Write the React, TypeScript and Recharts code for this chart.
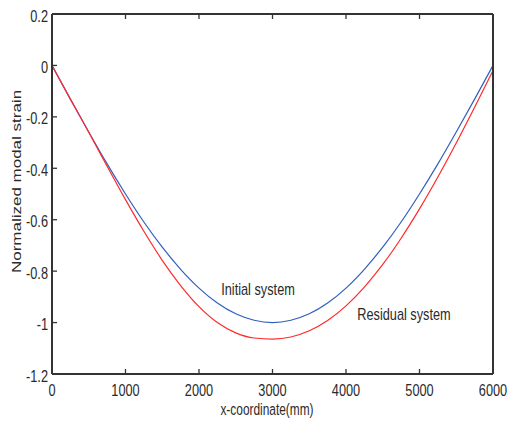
import { LineChart, Line, XAxis, YAxis, ReferenceDot } from "recharts";

// x positions along the beam (mm)
const xCoords = [
  0, 250, 500, 750, 1000, 1250, 1500, 1750, 2000, 2250, 2500, 2750, 3000,
  3250, 3500, 3750, 4000, 4250, 4500, 4750, 5000, 5250, 5500, 5750, 6000,
];

const initialSystem = [
  0, -0.131, -0.259, -0.383, -0.5, -0.609, -0.707, -0.793, -0.866, -0.924,
  -0.966, -0.991, -1.0, -0.991, -0.966, -0.924, -0.866, -0.793, -0.707,
  -0.609, -0.5, -0.383, -0.259, -0.131, 0,
];

const residualSystem = [
  0, -0.131, -0.26, -0.392, -0.522, -0.645, -0.758, -0.856, -0.938, -1.0,
  -1.04, -1.06, -1.064, -1.056, -1.032, -0.992, -0.935, -0.862, -0.774,
  -0.672, -0.558, -0.434, -0.302, -0.163, -0.02,
];

const xTicks = [0, 1000, 2000, 3000, 4000, 5000, 6000];
const yTicks = [-1.2, -1, -0.8, -0.6, -0.4, -0.2, 0, 0.2];

const rows = xCoords.map((x, i) => ({
  x,
  initial: initialSystem[i],
  residual: residualSystem[i],
}));

const FONT = "'Liberation Sans', Arial, sans-serif";
const INK = "#2a2a2a";
const FRAME = "#333333";
const TICK = 5;

// the original figure is squashed sideways, so text is drawn narrowed
function SText({ x, y, anchor = "middle", sx = 0.75, rotate = 0, children }: any) {
  return (
    <text
      transform={`translate(${x},${y}) scale(${sx},1)${rotate ? ` rotate(${rotate})` : ""}`}
      textAnchor={anchor}
      fontSize={17}
      fontFamily={FONT}
      fill={INK}
    >
      {children}
    </text>
  );
}

const fmt = (v: number) => String(Math.round(v * 10) / 10);

function BottomTick({ x, y, payload }: any) {
  return (
    <g>
      <line x1={x} x2={x} y1={y} y2={y - TICK} stroke={FRAME} strokeWidth={1.3} />
      <SText x={x} y={y + 22}>{fmt(payload.value)}</SText>
    </g>
  );
}

function LeftTick({ x, y, payload }: any) {
  return (
    <g>
      <line x1={x} x2={x + TICK} y1={y} y2={y} stroke={FRAME} strokeWidth={1.3} />
      <SText x={x - 4} y={y + 7.5} anchor="end">{fmt(payload.value)}</SText>
    </g>
  );
}

function TopTick({ x, y }: any) {
  return <line x1={x} x2={x} y1={y} y2={y + TICK} stroke={FRAME} strokeWidth={1.3} />;
}

function RightTick({ x, y }: any) {
  return <line x1={x - TICK} x2={x} y1={y} y2={y} stroke={FRAME} strokeWidth={1.3} />;
}

function annotation(text: string) {
  return ({ viewBox }: any) => (
    <SText x={viewBox.x + viewBox.width / 2} y={viewBox.y + viewBox.height / 2}>
      {text}
    </SText>
  );
}

export default function App() {
  return (
    <div style={{ position: "absolute", left: 0, top: 0, background: "#fff" }}>
      <LineChart
        width={507}
        height={423}
        data={rows}
        margin={{ top: 13, right: 13, left: 0, bottom: 0 }}
      >
        <XAxis
          xAxisId="b"
          dataKey="x"
          type="number"
          domain={[0, 6000]}
          ticks={xTicks}
          interval={0}
          height={49}
          tickSize={0}
          tickMargin={0}
          tick={BottomTick}
          tickLine={false}
          axisLine={{ stroke: FRAME, strokeWidth: 2 }}
          label={{
            content: () => (
              <SText x={267} y={415} sx={0.7}>
                x-coordinate(mm)
              </SText>
            ),
          }}
        />
        <XAxis
          xAxisId="t"
          orientation="top"
          dataKey="x"
          type="number"
          domain={[0, 6000]}
          ticks={xTicks}
          interval={0}
          height={1}
          tickSize={0}
          tickMargin={0}
          tick={TopTick}
          tickLine={false}
          axisLine={{ stroke: FRAME, strokeWidth: 2 }}
        />
        <YAxis
          yAxisId="l"
          type="number"
          domain={[-1.2, 0.2]}
          ticks={yTicks}
          interval={0}
          width={52}
          tickSize={0}
          tickMargin={0}
          tick={LeftTick}
          tickLine={false}
          axisLine={{ stroke: FRAME, strokeWidth: 2 }}
          label={{
            content: () => (
              <SText x={21} y={181.5} rotate={-90}>
                Normalized modal strain
              </SText>
            ),
          }}
        />
        <YAxis
          yAxisId="r"
          orientation="right"
          type="number"
          domain={[-1.2, 0.2]}
          ticks={yTicks}
          interval={0}
          width={1}
          tickSize={0}
          tickMargin={0}
          tick={RightTick}
          tickLine={false}
          axisLine={{ stroke: FRAME, strokeWidth: 2 }}
        />
        <Line
          xAxisId="b"
          yAxisId="l"
          dataKey="initial"
          type="monotone"
          stroke="#2f5fbf"
          strokeWidth={1.2}
          dot={false}
          isAnimationActive={false}
        />
        <Line
          xAxisId="b"
          yAxisId="l"
          dataKey="residual"
          type="monotone"
          stroke="#ff2a2a"
          strokeWidth={1.2}
          dot={false}
          isAnimationActive={false}
        />
        <ReferenceDot
          xAxisId="b"
          yAxisId="l"
          x={2803}
          y={-0.893}
          r={0}
          fill="none"
          stroke="none"
          label={{ content: annotation("Initial system") }}
        />
        <ReferenceDot
          xAxisId="b"
          yAxisId="l"
          x={4789}
          y={-0.99}
          r={0}
          fill="none"
          stroke="none"
          label={{ content: annotation("Residual system") }}
        />
      </LineChart>
    </div>
  );
}
